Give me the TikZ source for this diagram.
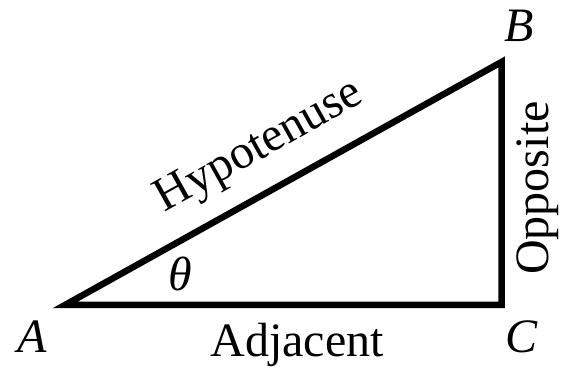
\documentclass[tikz,border=0pt]{standalone}
\usepackage{fontspec}
\setmainfont{Liberation Serif}
\begin{document}
\begin{tikzpicture}[x=1pt,y=-1pt,
  lbl/.style={inner sep=0pt, font=\fontsize{48}{56}\selectfont},
  edge/.style={line width=6.5pt, line join=miter}]
\useasboundingbox (0,0) rectangle (568,374);
\coordinate (A) at (65,305);
\coordinate (B) at (501.5,62);
\coordinate (C) at (501.5,305);
\draw[edge] (A) -- (B) -- (C) -- cycle;
\node[lbl] (la) at (32,337) {\itshape A};
\node[lbl] (lb) at (519,26) {\itshape B};
\node[lbl] (lc) at (522,337) {\itshape C};
\node[lbl] (th) at (180,274) {\itshape θ};
\node[lbl, rotate=29.1] (hyp) at (260,148) {Hypotenuse};
\node[lbl, rotate=90] (opp) at (538,188) {Opposite};
\node[lbl] (adj) at (297,345) {Adjacent};
\end{tikzpicture}
\end{document}
